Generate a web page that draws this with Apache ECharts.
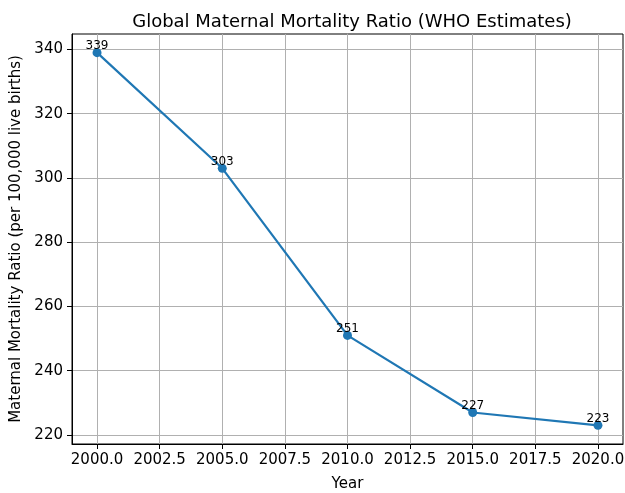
<!DOCTYPE html>
<html>
<head>
<meta charset="utf-8">
<script src="https://cdn.jsdelivr.net/npm/echarts@6/dist/echarts.min.js"></script>
<style>
  html, body { margin: 0; padding: 0; background: #fff; }
  #chart { width: 625px; height: 493px; }
</style>
</head>
<body>
<div id="chart"></div>
<script>
// data
var years = [2000, 2005, 2010, 2015, 2020];
var ratio = [339, 303, 251, 227, 223];
var xTicks = [2000, 2002.5, 2005, 2007.5, 2010, 2012.5, 2015, 2017.5, 2020];
var yTicks = [220, 240, 260, 280, 300, 320, 340];

var font = "DejaVu Sans";
var chart = echarts.init(document.getElementById("chart"));

chart.setOption({
  animation: false,
  backgroundColor: "#fff",
  title: {
    text: "Global Maternal Mortality Ratio (WHO Estimates)",
    left: 347,
    textAlign: "center",
    top: 8,
    textStyle: { fontFamily: font, fontSize: 18, fontWeight: "normal", color: "#000" }
  },
  grid: {
    left: 72, right: 2, top: 34, bottom: 49,
    outerBoundsMode: "none",
    containLabel: false,
    show: true, borderColor: "#000", borderWidth: 1, backgroundColor: "transparent"
  },
  xAxis: {
    type: "value",
    min: 1999, max: 2021,
    name: "Year",
    nameLocation: "middle",
    nameGap: 33,
    nameTextStyle: { fontFamily: font, fontSize: 15, color: "#000" },
    axisLine: { show: true, lineStyle: { color: "#000", width: 1 } },
    axisTick: { show: true, length: 5, customValues: xTicks, lineStyle: { color: "#000" } },
    axisLabel: {
      customValues: xTicks, margin: 9,
      fontFamily: font, fontSize: 15, color: "#000",
      formatter: function (v) { return v.toFixed(1); }
    },
    splitLine: { show: true, lineStyle: { color: "#b0b0b0", width: 1 } }
  },
  yAxis: {
    type: "value",
    min: 217.2, max: 344.8,
    name: "Maternal Mortality Ratio (per 100,000 live births)",
    nameLocation: "middle",
    nameGap: 47,
    nameRotate: 90,
    nameTextStyle: { fontFamily: font, fontSize: 15, color: "#000" },
    axisLine: { show: true, lineStyle: { color: "#000", width: 1 } },
    axisTick: { show: true, length: 5, customValues: yTicks, lineStyle: { color: "#000" } },
    axisLabel: {
      customValues: yTicks, margin: 9,
      fontFamily: font, fontSize: 15, color: "#000"
    },
    splitLine: { show: true, lineStyle: { color: "#b0b0b0", width: 1 } }
  },
  series: [
    {
      type: "line",
      data: years.map(function (y, i) { return [y, ratio[i]]; }),
      symbol: "circle",
      symbolSize: 9,
      lineStyle: { color: "#1f77b4", width: 2.2 },
      itemStyle: { color: "#1f77b4" },
      label: {
        show: true,
        position: "top",
        distance: -4,
        fontFamily: font,
        fontSize: 12,
        color: "#000",
        formatter: function (p) { return p.value[1]; }
      }
    }
  ]
});
</script>
</body>
</html>
